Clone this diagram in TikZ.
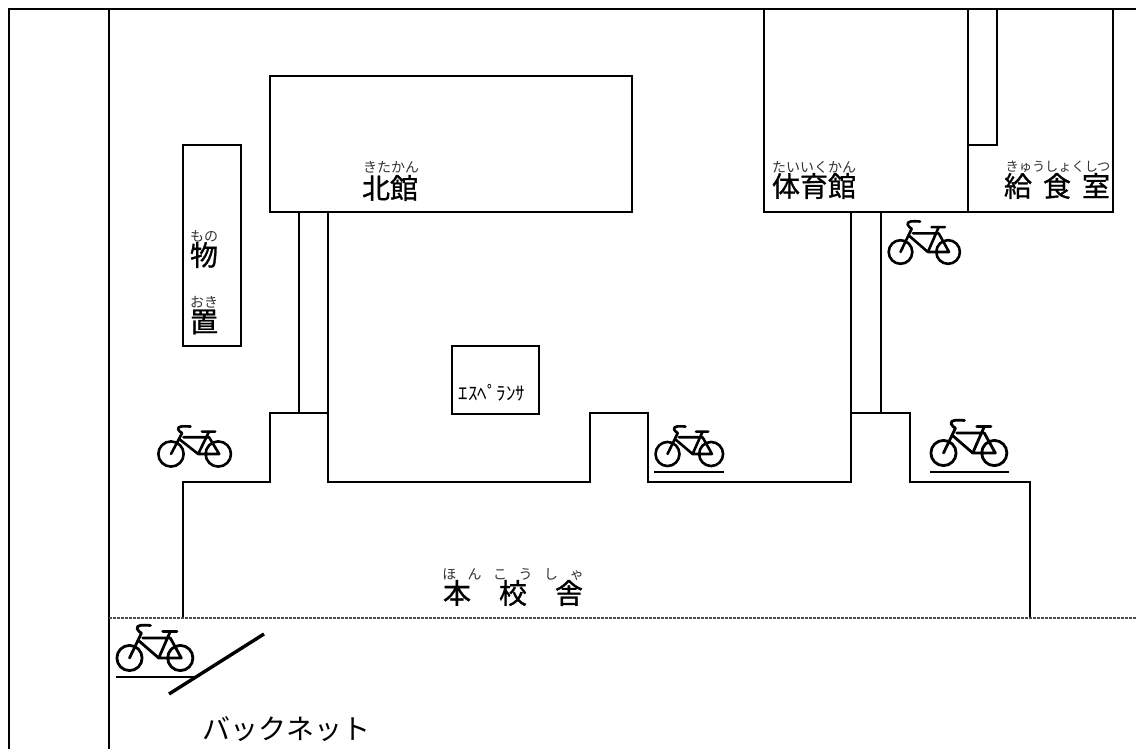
\documentclass[tikz,border=0pt]{standalone}
\usepackage{fontspec}
\newfontfamily\cjk{Noto Sans CJK JP}
\newfontfamily\cjkb[FakeBold=1]{Noto Sans CJK JP}
\newcommand{\wrx}{38}
\newcommand{\wry}{38}
\tikzset{
  wall/.style={line width=2.3pt,black,line join=miter},
  kan/.style={inner sep=0pt,font=\cjkb\fontsize{28}{28}\selectfont,text=black},
  ruby/.style={inner sep=0pt,font=\cjk\fontsize{14}{14}\selectfont,text=black!80},
  shelf/.style={line width=2.3pt,black},
  bikepic/.pic={
    \draw[line cap=round,line join=round]
      (0,0) circle[x radius=\wrx,y radius=\wry]
      (153,0) circle[x radius=\wrx,y radius=\wry]
      (63,-98) .. controls (40,-100) and (20,-100) .. (23,-88) .. controls (24,-80) and (34,-78) .. (36,-75)
      -- (0,0)
      (40,-60) -- (123,-60)
      (100,-80) -- (143,-80)
      (123,-80) -- (88,0) -- (156,0) -- (123,-60)
      (28,-52) -- (88,0);
  }
}
\begin{document}
\begin{tikzpicture}[x=1pt,y=-1pt]
\useasboundingbox (0,0) rectangle (1136,749);
% frame
\draw[wall] (9,749) -- (9,9) -- (1136,9);
\draw[wall] (109,9) -- (109,749);
% storage, north, esperanza
\draw[wall] (183,145) rectangle (241,346);
\draw[wall] (270,76) rectangle (632,212);
\draw[wall] (452,346) rectangle (539,414);
% corridors and main building
\draw[wall] (299,212) -- (299,413);
\draw[wall] (183,618) -- (183,482) -- (270,482) -- (270,413) -- (328,413);
\draw[wall] (328,212) -- (328,482) -- (590,482) -- (590,413) -- (648,413) -- (648,482) -- (851,482) -- (851,212);
\draw[wall] (881,212) -- (881,413);
\draw[wall] (851,413) -- (910,413) -- (910,482) -- (1030,482) -- (1030,618);
% gym, kitchen
\draw[wall] (764,9) -- (764,212) -- (1113,212) -- (1113,9);
\draw[wall] (968,9) -- (968,212);
\draw[wall] (997,9) -- (997,145) -- (968,145);
% dashed line
\draw[line width=1.2pt,black!70,dash pattern=on 3pt off 1pt] (109,618) -- (1136,618);
% back net
\draw[line width=3.4pt,black] (169,694) -- (264,634);
% shelves
\draw[shelf] (116,677) -- (195,677);
\draw[shelf] (654,472) -- (724,472);
\draw[shelf] (930,472) -- (1009,472);
% bikes: origin at the left wheel centre
\begin{scope}[shift={(171,454)},x=0.309pt,y=-0.28pt,line width=2.6pt]\renewcommand{\wrx}{41}\renewcommand{\wry}{45}\pic{bikepic};\end{scope}
\begin{scope}[shift={(667.5,454)},x=0.285pt,y=-0.28pt,line width=2.6pt]\renewcommand{\wrx}{42}\renewcommand{\wry}{43}\pic{bikepic};\end{scope}
\begin{scope}[shift={(900.5,252)},x=0.311pt,y=-0.311pt,line width=2.6pt]\pic{bikepic};\end{scope}
\begin{scope}[shift={(943.5,453)},x=0.332pt,y=-0.332pt,line width=2.8pt]\pic{bikepic};\end{scope}
\begin{scope}[shift={(129.5,658)},x=0.332pt,y=-0.332pt,line width=2.8pt]\pic{bikepic};\end{scope}
% text
\node[kan] (kita) at (390,188) {北館};
\node[ruby] (kitar) at (391,167) {きたかん};
\node[kan] (tai) at (814,186) {体育館};
\node[ruby] (tair) at (814,167) {たいいくかん};
\node[kan] (kyu) at (1057,186) {給\hspace{11pt}食\hspace{11pt}室};
\node[ruby,font=\cjk\fontsize{13.2}{14}\selectfont] (kyur) at (1058,167) {きゅうしょくしつ};
\node[kan] (mono) at (204,255) {物};
\node[ruby] (monor) at (204,236) {もの};
\node[kan] (oki) at (204,322) {置};
\node[ruby] (okir) at (204,302) {おき};
\node[inner sep=0pt,font=\cjk\fontsize{19}{19}\selectfont] (esp) at (492,393) {ｴｽﾍﾟﾗﾝｻ};
\node[kan] (hon) at (513,593) {本\hspace{28pt}校\hspace{28pt}舎};
\node[ruby] (honr) at (513,575) {ほ\hspace{11.5pt}ん\hspace{11.5pt}こ\hspace{11.5pt}う\hspace{11.5pt}し\hspace{11.5pt}ゃ};
\node[kan,font=\cjk\fontsize{28}{28}\selectfont] (net) at (286,729) {バックネット};
\end{tikzpicture}
\end{document}
